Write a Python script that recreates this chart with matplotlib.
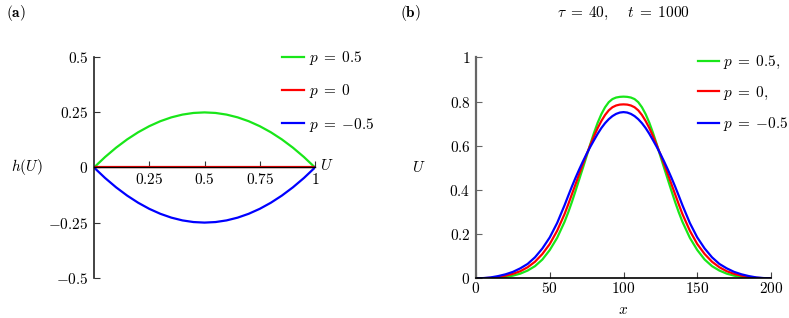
import matplotlib
matplotlib.use("Agg")
import matplotlib.pyplot as plt

plt.rcParams['mathtext.fontset'] = 'cm'
plt.rcParams['font.family'] = ['DejaVu Serif']

# ---------- panel (a) data ----------
U_a = [0.0, 0.05, 0.10, 0.15, 0.20, 0.25, 0.30, 0.35, 0.40, 0.45, 0.50,
       0.55, 0.60, 0.65, 0.70, 0.75, 0.80, 0.85, 0.90, 0.95, 1.0]
h_p05 = [0.0, 0.0475, 0.09, 0.1275, 0.16, 0.1875, 0.21, 0.2275, 0.24, 0.2475, 0.25,
         0.2475, 0.24, 0.2275, 0.21, 0.1875, 0.16, 0.1275, 0.09, 0.0475, 0.0]
h_p0 = [0.0] * 21
h_pm05 = [0.0, -0.0475, -0.09, -0.1275, -0.16, -0.1875, -0.21, -0.2275, -0.24, -0.2475, -0.25,
          -0.2475, -0.24, -0.2275, -0.21, -0.1875, -0.16, -0.1275, -0.09, -0.0475, 0.0]
labels_a = [r'$p\;=\;0.5$', r'$p\;=\;0$', r'$p\;=\;{-0.5}$']
yticks_a = [-0.5, -0.25, 0, 0.25, 0.5]
yticklabels_a = [r'$-0.5$', r'$-0.25$', r'$0$', r'$0.25$', r'$0.5$']
xticks_a = [0.25, 0.5, 0.75, 1]
xticklabels_a = [r'$0.25$', r'$0.5$', r'$0.75$', r'$1$']

# ---------- panel (b) data ----------
x_b = [0, 5, 10, 15, 20, 25, 30, 35, 40, 45, 50, 55,
       60, 62.5, 65, 67.5, 70, 72.5, 75, 77.5, 80, 82.5, 85, 87.5, 90, 92.5, 95, 97.5, 100,
       102.5, 105, 107.5, 110, 112.5, 115, 117.5, 120, 122.5, 125, 127.5, 130, 132.5, 135, 137.5, 140,
       145, 150, 155, 160, 165, 170, 175, 180, 185, 190, 195, 200]
U_green = [0.0, 0.0003, 0.001, 0.003, 0.006, 0.012, 0.021, 0.035, 0.055, 0.085, 0.128, 0.183,
           0.255, 0.298, 0.345, 0.396, 0.448, 0.50, 0.553, 0.607, 0.658, 0.704, 0.743, 0.774,
           0.797, 0.811, 0.818, 0.821, 0.822,
           0.821, 0.818, 0.811, 0.797, 0.774, 0.743, 0.704, 0.658, 0.607, 0.553, 0.50, 0.448,
           0.396, 0.345, 0.298, 0.255,
           0.183, 0.128, 0.085, 0.055, 0.035, 0.021, 0.012, 0.006, 0.003, 0.001, 0.0003, 0.0]
U_red = [0.0, 0.0005, 0.002, 0.006, 0.012, 0.020, 0.032, 0.05, 0.075, 0.11, 0.155, 0.215,
         0.29, 0.334, 0.38, 0.426, 0.472, 0.517, 0.561, 0.603, 0.643, 0.68, 0.712, 0.739,
         0.76, 0.774, 0.782, 0.786, 0.787,
         0.786, 0.782, 0.774, 0.76, 0.739, 0.712, 0.68, 0.643, 0.603, 0.561, 0.517, 0.472,
         0.426, 0.38, 0.334, 0.29,
         0.215, 0.155, 0.11, 0.075, 0.05, 0.032, 0.020, 0.012, 0.006, 0.002, 0.0005, 0.0]
U_blue = [0.0, 0.001, 0.004, 0.010, 0.018, 0.029, 0.045, 0.065, 0.095, 0.135, 0.185, 0.25,
          0.33, 0.373, 0.415, 0.455, 0.493, 0.529, 0.563, 0.595, 0.625, 0.654, 0.68, 0.702,
          0.72, 0.734, 0.744, 0.750, 0.752,
          0.750, 0.744, 0.734, 0.72, 0.702, 0.68, 0.654, 0.625, 0.595, 0.563, 0.529, 0.493,
          0.455, 0.415, 0.373, 0.33,
          0.25, 0.185, 0.135, 0.095, 0.065, 0.045, 0.029, 0.018, 0.010, 0.004, 0.001, 0.0]
labels_b = [r'$p\;=\;0.5,$', r'$p\;=\;0,$', r'$p\;=\;{-0.5}$']
yticks_b = [0, 0.2, 0.4, 0.6, 0.8, 1]
yticklabels_b = [r'$0$', r'$0.2$', r'$0.4$', r'$0.6$', r'$0.8$', r'$1$']
xticks_b = [0, 50, 100, 150, 200]
xticklabels_b = [r'$0$', r'$50$', r'$100$', r'$150$', r'$200$']

GREEN = '#19e619'
RED = '#ff0000'
BLUE = '#0000ff'
FS = 11

W, H = 789, 318
fig = plt.figure(figsize=(W / 100, H / 100), dpi=100)

# ---------- panel (a) ----------
axa = fig.add_axes([94 / W, 1 - 277.7 / H, 221 / W, 220.4 / H])
la1, = axa.plot(U_a, h_p05, color=GREEN, lw=1.6)
la2, = axa.plot(U_a, h_p0, color=RED, lw=1.6)
la3, = axa.plot(U_a, h_pm05, color=BLUE, lw=1.6)
axa.set_xlim(0, 1)
axa.set_ylim(-0.5, 0.5)
for s in ['top', 'right']:
    axa.spines[s].set_visible(False)
axa.spines['bottom'].set_position(('data', 0))
axa.spines['left'].set_color('#222222')
axa.spines['left'].set_linewidth(1.2)
axa.spines['bottom'].set_linewidth(1.0)
axa.set_yticks(yticks_a)
axa.set_yticklabels(yticklabels_a, fontsize=FS)
axa.set_xticks(xticks_a)
axa.set_xticklabels(xticklabels_a, fontsize=FS)
axa.tick_params(axis='y', direction='in', length=4, pad=4, color='#333333')
axa.tick_params(axis='x', direction='in', length=4, pad=3, color='#333333')
axa.legend([la1, la2, la3], labels_a, loc='upper left',
           bbox_to_anchor=(282 / W, 1 - 49 / H), bbox_transform=fig.transFigure,
           frameon=False, fontsize=FS, handlelength=1.45, handletextpad=0.33,
           labelspacing=1.0, borderpad=0, borderaxespad=0)
fig.text(27 / W, 1 - 167 / H, r'$h(U)$', fontsize=FS, ha='center', va='center')
fig.text(320 / W, 1 - 166 / H, r'$U$', fontsize=FS, ha='left', va='center')
fig.text(6 / W, 1 - 13 / H, r'$\mathbf{(a)}$', fontsize=FS, ha='left', va='center')

# ---------- panel (b) ----------
axb = fig.add_axes([476 / W, 1 - 278.3 / H, 295 / W, 221 / H])
lb1, = axb.plot(x_b, U_green, color=GREEN, lw=1.6)
lb2, = axb.plot(x_b, U_red, color=RED, lw=1.6)
lb3, = axb.plot(x_b, U_blue, color=BLUE, lw=1.6)
axb.set_xlim(0, 200)
axb.set_ylim(0, 1)
for s in ['top', 'right']:
    axb.spines[s].set_visible(False)
axb.spines['left'].set_color('#666666')
axb.spines['left'].set_linewidth(1.6)
axb.spines['bottom'].set_color('#000000')
axb.spines['bottom'].set_linewidth(1.2)
axb.set_yticks(yticks_b)
axb.set_yticklabels(yticklabels_b, fontsize=FS)
axb.set_xticks(xticks_b)
axb.set_xticklabels(xticklabels_b, fontsize=FS)
axb.tick_params(axis='y', direction='in', length=4, pad=4, color='#666666')
axb.tick_params(axis='x', direction='in', length=4, pad=2, color='#444444')
axb.legend([lb1, lb2, lb3], labels_b, loc='upper left',
           bbox_to_anchor=(698 / W, 1 - 54 / H), bbox_transform=fig.transFigure,
           frameon=False, fontsize=FS, handlelength=1.35, handletextpad=0.3,
           labelspacing=0.87, borderpad=0, borderaxespad=0)
fig.text(419 / W, 1 - 168 / H, r'$U$', fontsize=FS, ha='center', va='center')
fig.text(623 / W, 1 - 310 / H, r'$x$', fontsize=FS, ha='center', va='center')
fig.text(623 / W, 1 - 13 / H, r'$\tau\;=\;40,\quad\;t\;=\;1000$', fontsize=FS,
         ha='center', va='center')
fig.text(400 / W, 1 - 13 / H, r'$\mathbf{(b)}$', fontsize=FS, ha='left', va='center')

fig.savefig('out.png', dpi=100)
